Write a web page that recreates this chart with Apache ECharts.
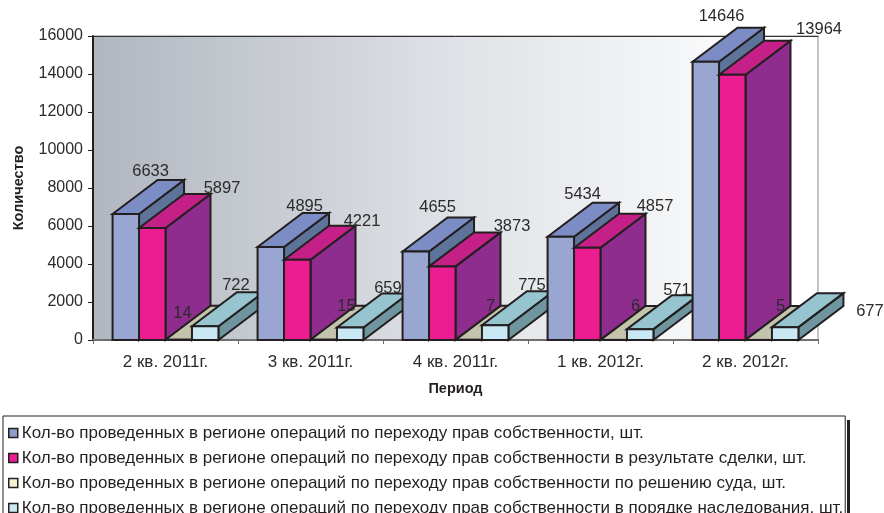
<!DOCTYPE html>
<html><head><meta charset="utf-8">
<style>html,body{margin:0;padding:0;background:#fff;overflow:hidden}#c{width:884px;height:513px}</style>
<script src="https://cdn.jsdelivr.net/npm/echarts@6/dist/echarts.min.js"></script>
</head><body><div id="c"></div>
<script>
const categories = ['2 кв. 2011г.', '3 кв. 2011г.', '4 кв. 2011г.', '1 кв. 2012г.', '2 кв. 2012г.'];
const total = [6633, 4895, 4655, 5434, 14646];
const deals = [5897, 4221, 3873, 4857, 13964];
const court = [14, 15, 7, 6, 5];
const inherit = [722, 659, 775, 571, 677];
const names = [
  'Кол-во проведенных в регионе операций по переходу прав собственности, шт.',
  'Кол-во проведенных в регионе операций по переходу прав собственности в результате сделки, шт.',
  'Кол-во проведенных в регионе операций по переходу прав собственности по решению суда, шт.',
  'Кол-во проведенных в регионе операций по переходу прав собственности в порядке наследования, шт.'
];
const valuesBySeries = [total, deals, court, inherit];
const faces = [
  {front:'#9aa6d2', top:'#7c8cc4', side:'#5d7399', key:'#8e9ccb'},
  {front:'#ec1c91', top:'#c52088', side:'#8f2d8e', key:'#ec1c91'},
  {front:'#f3f1cf', top:'#c4c4ac', side:'#a8a890', key:'#f3f1cf'},
  {front:'#c8e9f4', top:'#96c4cf', side:'#6f969e', key:'#c8e9f4'}
];
// Hand placement of the value labels, relative to each bar's front top-left corner
const labelDx = [[38,47,35,35,29],[83,78,83,81,100],[17,36,35,35,35],[44,51,50,50,98]];
const labelDy = [[-43,-41,-44,-42,-45],[-40,-38,-40,-41,-45],[-26,-33,-33,-33,-33],[-41,-39.5,-40,-39,-16]];
const DEPTH_X = 45, DEPTH_Y = 34, INK = '#231f20';

function bar3d(s){
  return function(params, api){
    const c = api.value(0), v = api.value(1);
    const band = api.size([1,0])[0];
    const w = band * 0.1825;
    const p = api.coord([c, v]), b = api.coord([c, 0]);
    const x0 = p[0] + (s - 2) * w, x1 = x0 + w, yt = p[1], yb = b[1];
    const f = faces[s], z = c * 10 + s;
    const line = {stroke: INK, lineWidth: 2, lineJoin: 'miter'};
    const poly = (pts, fill, k) => ({type:'polygon', z2:z + k * 0.1, shape:{points:pts}, style:Object.assign({fill}, line)});
    return {type:'group', children:[
      poly([[x1,yt],[x1+DEPTH_X,yt-DEPTH_Y],[x1+DEPTH_X,yb-DEPTH_Y],[x1,yb]], f.side, 1),
      poly([[x0,yt],[x0+DEPTH_X,yt-DEPTH_Y],[x1+DEPTH_X,yt-DEPTH_Y],[x1,yt]], f.top, 2),
      poly([[x0,yt],[x1,yt],[x1,yb],[x0,yb]], f.front, 3),
      {type:'text', z2:1000, style:{
        x:x0 + labelDx[s][c], y:yt + labelDy[s][c], text:String(v),
        fill:'#2b2b2b', font:'16.5px "Liberation Sans"', align:'center', verticalAlign:'middle'
      }}
    ]};
  };
}

const chart = echarts.init(document.getElementById('c'), null, {renderer:'canvas'});
chart.setOption({
  animation:false,
  backgroundColor:'#fff',
  textStyle:{fontFamily:'"Liberation Sans"'},
  grid:{left:93, right:66, top:36, bottom:173, show:true, borderColor:'#8a8a8a', borderWidth:1,
    backgroundColor:new echarts.graphic.LinearGradient(0,0,1,0,[
      {offset:0,color:'#b1b6bf'},{offset:0.5,color:'#dfe2e6'},{offset:0.95,color:'#ffffff'},{offset:1,color:'#ffffff'}])},
  xAxis:[{type:'category', data:categories, position:'bottom',
    name:'Период', nameLocation:'middle', nameGap:41,
    nameTextStyle:{fontWeight:'bold', fontSize:14.5, color:'#231f20'},
    axisLine:{lineStyle:{color:'#6f6f6f', width:2}},
    axisTick:{show:true, length:4, lineStyle:{color:'#6f6f6f'}},
    axisLabel:{fontSize:17, color:'#2b2b2b', margin:14}
  },{type:'category', data:categories, position:'top',
    axisLine:{lineStyle:{color:'#333', width:1}}, axisTick:{show:false}, axisLabel:{show:false}}],
  yAxis:{type:'value', min:0, max:16000, interval:2000,
    name:'Количество', nameLocation:'middle', nameGap:67,
    nameTextStyle:{fontWeight:'bold', fontSize:14.5, color:'#231f20'},
    axisLine:{show:true, lineStyle:{color:'#231f20', width:2}},
    axisTick:{show:true, length:5, lineStyle:{color:'#231f20'}},
    axisLabel:{fontSize:16, color:'#2b2b2b', margin:10, padding:[3,0,0,0], formatter:(v)=>String(v)},
    splitLine:{show:false}},
  legend:{orient:'vertical', left:3, top:416, width:842, height:130, selectedMode:false, icon:'rect',
    itemWidth:9, itemHeight:9, itemGap:7, padding:[8,2,6,5],
    backgroundColor:'#fff', borderColor:'#231f20', borderWidth:1,
    textStyle:{fontSize:17, color:'#231f20', lineHeight:18, padding:[0,0,0,-1]},
    data:names.map((n,i)=>({name:n, itemStyle:{color:faces[i].key, borderColor:INK, borderWidth:1.5}}))},
  series:valuesBySeries.map((vals,s)=>({
    type:'custom', name:names[s], xAxisIndex:0, renderItem:bar3d(s),
    itemStyle:{color:faces[s].key},
    encode:{x:0,y:1},
    data:vals.map((v,i)=>[i,v]), clip:false, silent:true
  })),
  graphic:[{type:'rect', shape:{x:847,y:420,width:3,height:93}, style:{fill:'#231f20'}, silent:true}]
});
</script></body></html>
